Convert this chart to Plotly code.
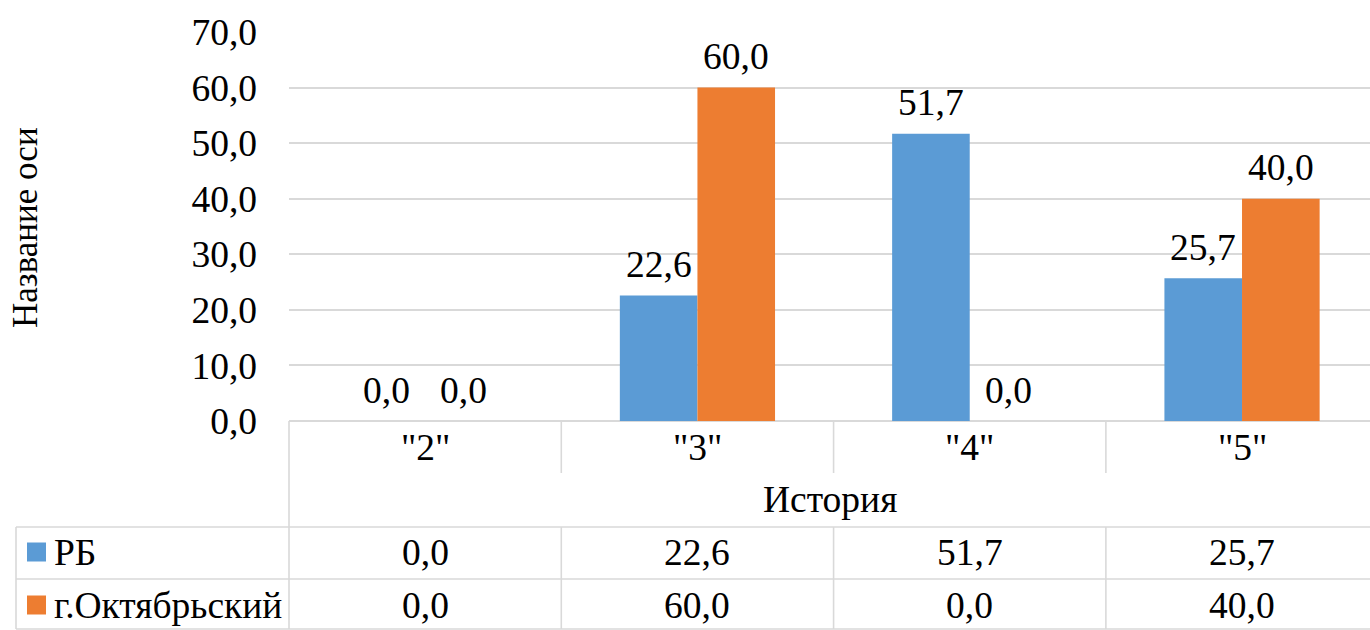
import plotly.graph_objects as go

# ---- data ----
categories = ['"2"', '"3"', '"4"', '"5"']
series_names = ["РБ", "г.Октябрьский"]
rb_values = [0.0, 22.6, 51.7, 25.7]
okt_values = [0.0, 60.0, 0.0, 40.0]
y_ticks = [0, 10, 20, 30, 40, 50, 60, 70]
x_title = "История"
y_title = "Название оси"

colors = ["#5B9BD5", "#ED7D31"]
grid_color = "#D9D9D9"
FONT = "Liberation Serif"
FS = 37.5

W, H = 1370, 630
L, T, B = 289, 32, 209
PLOT_W = W - L
PLOT_H = H - T - B
Y0 = H - B  # pixel of value 0


def fmt(v):
    return f"{v:.1f}".replace(".", ",")


def px_x(p):
    return (p - L) / PLOT_W


def px_y(p):
    return (Y0 - p) / PLOT_H


def tf(size=FS):
    return dict(family=FONT, size=size, color="black")


bargap = 0.43
half = (1 - bargap) / 4

fig = go.Figure()
series = [rb_values, okt_values]
for name, vals, col in zip(series_names, series, colors):
    fig.add_trace(go.Bar(x=list(range(len(categories))), y=vals, name=name,
                         marker=dict(color=col, line=dict(width=0)),
                         showlegend=False))

annotations = []
shapes = []

# data labels
for s, vals in enumerate(series):
    off = -half if s == 0 else half
    for i, v in enumerate(vals):
        annotations.append(dict(x=i + off, y=v, xref="x", yref="y", text=fmt(v),
                                showarrow=False, yanchor="middle", yshift=31, font=tf()))

# category labels
for i, c in enumerate(categories):
    annotations.append(dict(x=i, y=px_y(447), xref="x", yref="paper", text=c,
                            showarrow=False, yanchor="middle", font=tf()))

# x title
annotations.append(dict(x=0.5, y=px_y(500), xref="paper", yref="paper", text=x_title,
                        showarrow=False, yanchor="middle", font=tf()))

# y title
annotations.append(dict(x=px_x(25), y=px_y(228), xref="paper", yref="paper", text=y_title,
                        showarrow=False, textangle=-90, xanchor="center", yanchor="middle",
                        font=tf(35)))

# data table rows
row_y = [552, 605]
for s, (name, vals, col) in enumerate(zip(series_names, series, colors)):
    ry = row_y[s]
    shapes.append(dict(type="rect", xref="paper", yref="paper",
                       x0=px_x(27), x1=px_x(46), y0=px_y(ry - 9.5), y1=px_y(ry + 9.5),
                       fillcolor=col, line=dict(width=0)))
    annotations.append(dict(x=px_x(52), y=px_y(ry), xref="paper", yref="paper", text=name,
                            showarrow=False, xanchor="left", yanchor="middle", font=tf()))
    for i, v in enumerate(vals):
        annotations.append(dict(x=i, y=px_y(ry), xref="x", yref="paper", text=fmt(v),
                                showarrow=False, yanchor="middle", font=tf()))

line = dict(color=grid_color, width=1.6)
# table horizontal lines
for yy in [527, 579, 629]:
    shapes.append(dict(type="line", xref="paper", yref="paper", x0=px_x(16), x1=1,
                       y0=px_y(yy), y1=px_y(yy), line=line))
# left borders
shapes.append(dict(type="line", xref="paper", yref="paper", x0=px_x(16), x1=px_x(16),
                   y0=px_y(527), y1=px_y(629), line=line))
shapes.append(dict(type="line", xref="paper", yref="paper", x0=0, x1=0,
                   y0=0, y1=px_y(629), line=line))
# category separators
for i in range(len(categories)):
    for (a, b) in [(421, 473), (527, 629)]:
        shapes.append(dict(type="line", xref="x", yref="paper", x0=i + 0.5, x1=i + 0.5,
                           y0=px_y(a), y1=px_y(b), line=line))

fig.update_layout(
    width=W, height=H,
    margin=dict(l=L, r=0, t=T, b=B, pad=0),
    paper_bgcolor="white", plot_bgcolor="white",
    barmode="group", bargap=bargap, bargroupgap=0,
    annotations=annotations, shapes=shapes,
)
fig.update_xaxes(range=[-0.5, 3.47], showticklabels=False, showgrid=False,
                 zeroline=False, showline=False, ticks="")
fig.update_yaxes(range=[0, 70], tickvals=y_ticks, ticktext=[fmt(v) for v in y_ticks],
                 showgrid=True, gridcolor=grid_color, gridwidth=1.6,
                 zeroline=True, zerolinecolor=grid_color, zerolinewidth=1.6,
                 showline=False, ticks="", ticklabelstandoff=31, tickfont=tf())

fig.write_html("out.html", config={"displayModeBar": False},
               post_script="document.body.style.margin='0';document.body.style.overflow='hidden';")
